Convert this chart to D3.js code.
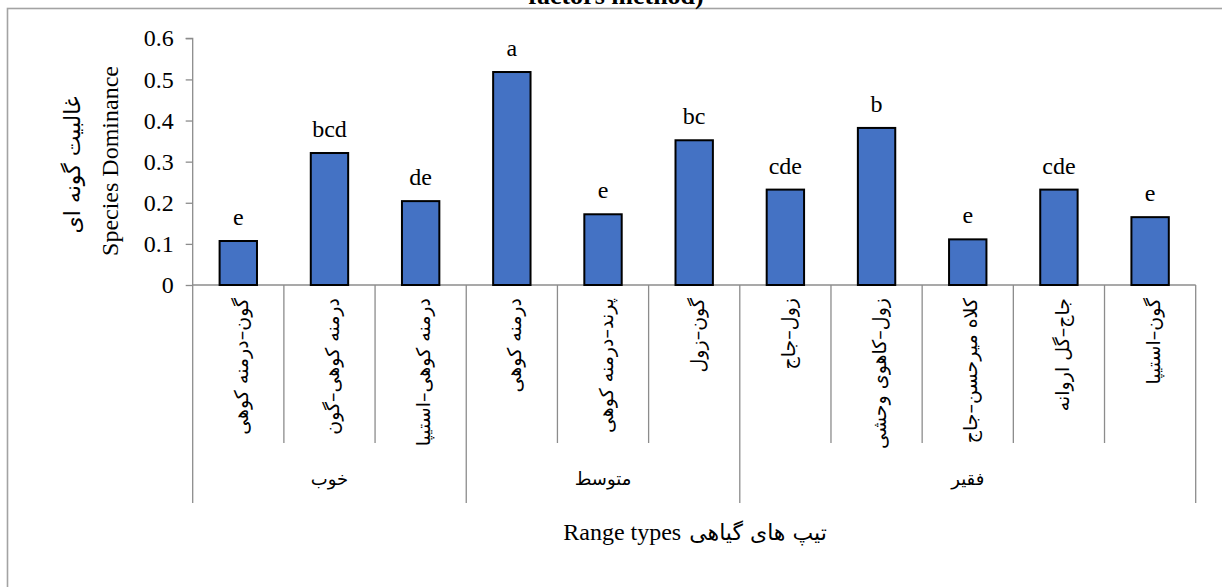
<!DOCTYPE html>
<html>
<head>
<meta charset="utf-8">
<script src="https://cdn.jsdelivr.net/npm/d3@7"></script>
<style>
  body { margin: 0; background: #fff; }
  svg { display: block; }
  .serif { font-family: "Liberation Serif", "Times New Roman", "DejaVu Serif", serif; }
  .fa { font-family: "DejaVu Sans", "Noto Sans", sans-serif; }
</style>
</head>
<body>
<svg id="chart" width="1222" height="587"></svg>
<script>
// Range types (plant community types), grouped by range condition
const categories = [
  "گون–درمنه کوهی",
  "درمنه کوهی–گون",
  "درمنه کوهی–استیپا",
  "درمنه کوهی",
  "پرند–درمنه کوهی",
  "گون–زول",
  "زول–جاج",
  "زول–کاهوی وحشی",
  "کلاه میرحسن–جاج",
  "جاج–گل اروانه",
  "گون–استیپا"
];
const groupNames = ["خوب", "متوسط", "فقیر"];
const groupSizes = [3, 3, 5];

// Species dominance per range type and Duncan grouping letters
const dominance = [0.107, 0.321, 0.204, 0.518, 0.172, 0.352, 0.232, 0.382, 0.111, 0.232, 0.165];
const letters = ["e", "bcd", "de", "a", "e", "bc", "cde", "b", "e", "cde", "e"];

const yTickValues = [0, 0.1, 0.2, 0.3, 0.4, 0.5, 0.6];

const svg = d3.select("#chart");
const plot = { left: 192.7, right: 1195.7, top: 38.3, bottom: 285 };

const x = d3.scaleBand()
  .domain(d3.range(categories.length))
  .range([plot.left, plot.right]);
const y = d3.scaleLinear()
  .domain([0, 0.6])
  .range([plot.bottom, plot.top]);

const step = x.step();
const barWidth = step * 0.41;
const axisColor = "#8c8c8c";

// chart area frame
svg.append("rect")
  .attr("x", 7.5).attr("y", 8.5)
  .attr("width", 1260).attr("height", 620)
  .attr("fill", "#fff")
  .attr("stroke", "#a3a3a3")
  .attr("stroke-width", 1.6);

// title (its upper part lies above the frame)
svg.append("text")
  .attr("class", "serif")
  .attr("x", 616).attr("y", 3.5)
  .attr("text-anchor", "middle")
  .style("font-weight", "bold")
  .style("font-size", "26px")
  .text("factors method)");

// y axis
const yAxis = d3.axisLeft(y)
  .tickValues(yTickValues)
  .tickSize(7)
  .tickPadding(12)
  .tickFormat(d => d === 0 ? "0" : d3.format(".1f")(d));

const gy = svg.append("g")
  .attr("transform", `translate(${plot.left},0)`)
  .call(yAxis)
  .attr("font-family", null)
  .attr("font-size", null);
gy.select(".domain").attr("stroke", axisColor).attr("stroke-width", 1.3)
  .attr("d", `M-7,${plot.top}H0V${plot.bottom}`);
gy.selectAll(".tick line").attr("stroke", axisColor).attr("stroke-width", 1.3);
gy.selectAll(".tick text")
  .attr("class", "serif")
  .style("font-size", "24px")
  .attr("fill", "#000");

// category / group boundaries below the axis
const groupStarts = [0].concat(Array.from(d3.cumsum(groupSizes)).slice(0, -1));
const groupEnds = new Set([0].concat(Array.from(d3.cumsum(groupSizes))));
const boundaries = d3.range(categories.length + 1);
svg.append("g").selectAll("line")
  .data(boundaries)
  .join("line")
  .attr("x1", i => i < categories.length ? x(i) : plot.right)
  .attr("x2", i => i < categories.length ? x(i) : plot.right)
  .attr("y1", plot.bottom)
  .attr("y2", i => groupEnds.has(i) ? 503 : 443)
  .attr("stroke", axisColor)
  .attr("stroke-width", 1.3);

// x axis baseline
svg.append("line")
  .attr("x1", plot.left).attr("x2", plot.right)
  .attr("y1", plot.bottom).attr("y2", plot.bottom)
  .attr("stroke", axisColor).attr("stroke-width", 1.3);

// bars
svg.append("g").selectAll("rect")
  .data(dominance)
  .join("rect")
  .attr("x", (d, i) => x(i) + (step - barWidth) / 2)
  .attr("y", d => y(d))
  .attr("width", barWidth)
  .attr("height", d => y(0) - y(d))
  .attr("fill", "#4472C4")
  .attr("stroke", "#000")
  .attr("stroke-width", 2);

// significance letters
svg.append("g").selectAll("text")
  .data(dominance)
  .join("text")
  .attr("class", "serif")
  .attr("x", (d, i) => x(i) + step / 2)
  .attr("y", d => y(d) - 16)
  .attr("text-anchor", "middle")
  .style("font-size", "24px")
  .text((d, i) => letters[i]);

// category labels, vertical
svg.append("g").selectAll("text")
  .data(categories)
  .join("text")
  .attr("class", "fa")
  .attr("transform", (d, i) => `translate(${x(i) + step / 2 + 3},298) rotate(-90)`)
  .attr("text-anchor", "end")
  .attr("dy", "0.35em")
  .style("font-size", "19px")
  .text(d => d);

// group labels
svg.append("g").selectAll("text")
  .data(groupNames)
  .join("text")
  .attr("class", "fa")
  .attr("x", (d, i) => plot.left + step * (groupStarts[i] + groupSizes[i] / 2))
  .attr("y", 485)
  .attr("text-anchor", "middle")
  .style("font-size", "18px")
  .text(d => d);

// x axis title, centred under the plot
const xTitleCenter = (plot.left + plot.right) / 2;
const xTitle = svg.append("g").attr("transform", `translate(${xTitleCenter - 9},540)`);
xTitle.append("text")
  .attr("class", "serif")
  .attr("x", -4)
  .attr("text-anchor", "end")
  .style("font-size", "24px")
  .text("Range types");
xTitle.append("text")
  .attr("class", "fa")
  .attr("x", 4)
  .attr("text-anchor", "start")
  .style("font-size", "22px")
  .text("تیپ های گیاهی");

// y axis title (two lines)
svg.append("text")
  .attr("class", "serif")
  .attr("transform", "translate(110,161) rotate(-90)")
  .attr("text-anchor", "middle")
  .attr("dy", "0.35em")
  .style("font-size", "24px")
  .text("Species Dominance");
svg.append("text")
  .attr("class", "fa")
  .attr("transform", "translate(72,165) rotate(-90)")
  .attr("text-anchor", "middle")
  .attr("dy", "0.35em")
  .style("font-size", "22px")
  .text("غالبیت گونه ای");
</script>
</body>
</html>
